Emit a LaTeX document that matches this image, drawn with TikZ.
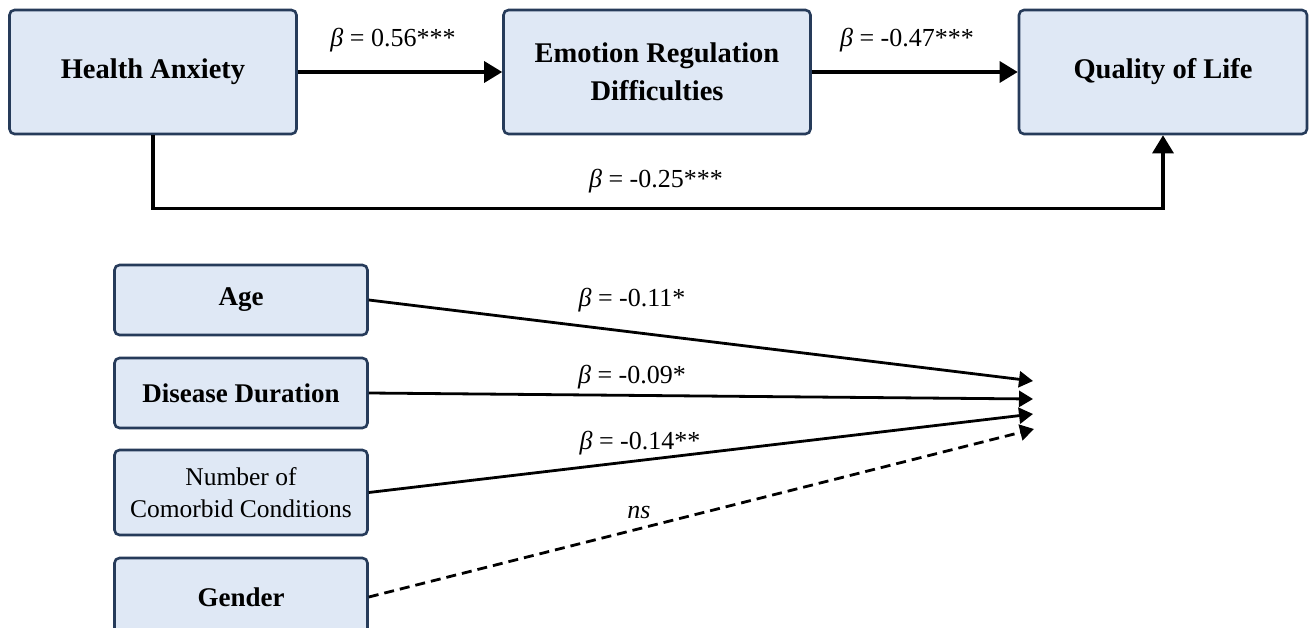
\documentclass[tikz,border=0pt]{standalone}
\usepackage{fontspec}
\setmainfont{Liberation Serif}
\usetikzlibrary{arrows.meta}
\definecolor{boxfill}{HTML}{DFE8F5}
\definecolor{boxline}{HTML}{263B5A}
\begin{document}
\begin{tikzpicture}[x=1pt,y=-1pt,
 box/.style={draw=boxline, fill=boxfill, line width=2.6pt, rounded corners=5pt, align=center, inner sep=0pt},
 bigbox/.style={box, font=\fontsize{28.5}{38}\selectfont\bfseries, minimum height=124pt},
 smallbox/.style={box, font=\fontsize{27}{32}\selectfont\bfseries, minimum width=253pt},
 arr/.style={line width=3.2pt, -{Triangle[length=18pt,width=21pt]}},
 sarr/.style={line width=2.8pt, -{Triangle[length=14pt,width=16pt]}},
 lab/.style={font=\fontsize{26}{30}\selectfont, inner sep=0pt}]
\fill[white] (0,0) rectangle (1314,628);
\clip (0,0) rectangle (1314,628);
% top row
\node[bigbox, minimum width=287pt] (ha) at (153,72) {Health Anxiety};
\node[bigbox, minimum width=307pt] (erd) at (657,72) {Emotion Regulation\\Difficulties};
\node[bigbox, minimum width=288pt] (qol) at (1163,72) {Quality of Life};
\draw[arr] (ha) -- (erd);
\draw[arr] (erd) -- (qol);
\draw[arr] (ha.south) -- ++(0,73) -| (qol.south);
\node[lab] (l1) at (393,40) {\textit{β} = 0.56***};
\node[lab] (l2) at (907,40) {\textit{β} = -0.47***};
\node[lab] (l3) at (656,181) {\textit{β} = -0.25***};
% bottom
\node[smallbox, minimum height=70pt] (age) at (241,300) {Age};
\node[smallbox, minimum height=70pt] (dd) at (241,393) {Disease Duration};
\node[smallbox, minimum height=85pt, font=\fontsize{25.5}{32}\selectfont] (nc) at (241,492.5) {Number of\\Comorbid Conditions};
\node[smallbox, minimum height=78pt] (gen) at (241,597) {Gender};
\coordinate (t1) at (1033,381);
\coordinate (t2) at (1033,399);
\coordinate (t3) at (1033,414);
\coordinate (t4) at (1034,429);
\draw[sarr] (age.east) -- (t1);
\draw[sarr] (dd.east) -- (t2);
\draw[sarr] (nc.east) -- (t3);
\draw[sarr, dash pattern=on 10pt off 6pt] (gen.east) -- (t4);
\node[lab] (b1) at (632,300) {\textit{β} = -0.11*};
\node[lab] (b2) at (632,377) {\textit{β} = -0.09*};
\node[lab] (b3) at (640,443) {\textit{β} = -0.14**};
\node[lab] (b4) at (639,512) {\textit{ns}};
\end{tikzpicture}
\end{document}
